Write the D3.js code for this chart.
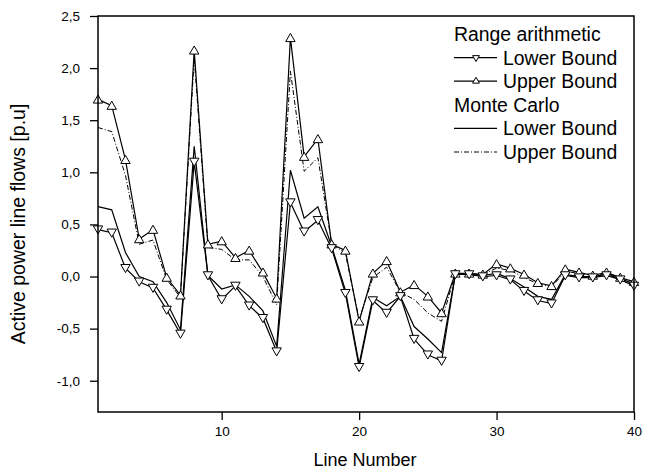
<!DOCTYPE html>
<html>
<head>
<meta charset="utf-8">
<script src="https://cdn.jsdelivr.net/npm/d3@7"></script>
<style>
  body { margin: 0; background: #fff; }
  svg { font-family: "Liberation Sans", Arial, sans-serif; }
</style>
</head>
<body>
<svg id="chart" width="656" height="476"></svg>
<script>
// Line flows, values
const lineNumbers = d3.range(1, 41);
const raLower = [0.45, 0.42, 0.08, -0.05, -0.11, -0.32, -0.55, 1.10, 0.01, -0.22,
  -0.09, -0.28, -0.40, -0.72, 0.71, 0.43, 0.54, 0.27, -0.16, -0.87,
  -0.23, -0.35, -0.19, -0.60, -0.75, -0.81, 0.02, 0.02, 0.00, 0.01,
  -0.03, -0.14, -0.23, -0.26, 0.01, -0.01, -0.01, 0.01, -0.03, -0.09];
const raUpper = [1.70, 1.64, 1.12, 0.36, 0.45, -0.01, -0.18, 2.17, 0.31, 0.34,
  0.18, 0.25, 0.04, -0.21, 2.29, 1.15, 1.32, 0.31, 0.25, -0.43,
  0.03, 0.15, -0.15, -0.08, -0.19, -0.35, 0.03, 0.03, 0.02, 0.12,
  0.08, 0.02, -0.06, -0.09, 0.07, 0.04, 0.01, 0.04, -0.01, -0.05];
const mcLower = [0.67, 0.64, 0.23, 0.00, -0.05, -0.25, -0.51, 1.25, 0.01, -0.12,
  -0.08, -0.19, -0.33, -0.67, 1.02, 0.56, 0.67, 0.29, -0.13, -0.84,
  -0.20, -0.28, -0.19, -0.48, -0.60, -0.73, 0.02, 0.02, 0.01, 0.03,
  -0.02, -0.10, -0.19, -0.22, 0.02, 0.00, 0.00, 0.02, -0.02, -0.07];
const mcUpper = [1.43, 1.39, 0.97, 0.31, 0.35, -0.03, -0.20, 2.10, 0.28, 0.26,
  0.16, 0.16, 0.00, -0.27, 1.97, 1.01, 1.14, 0.32, 0.22, -0.41,
  -0.01, 0.09, -0.15, -0.22, -0.35, -0.43, 0.03, 0.02, 0.02, 0.08,
  0.06, -0.01, -0.07, -0.10, 0.05, 0.03, 0.01, 0.03, -0.01, -0.05];
const xTicks = [10, 20, 30, 40];
const yTicks = [-1.0, -0.5, 0.0, 0.5, 1.0, 1.5, 2.0, 2.5];

const svg = d3.select("#chart");
const mLeft = 98, mRight = 634, mTop = 16, mBottom = 412;
const x = d3.scaleLinear().domain([1, 40]).range([mLeft, mRight]);
const y = d3.scaleLinear().domain([-1.3, 2.5]).range([mBottom, mTop]);
const fmt = d3.formatLocale({decimal: ",", thousands: ".", grouping: [3], currency: ["", ""], minus: "-"}).format(".1f");

const line = d3.line().x((d, i) => x(lineNumbers[i])).y(d => y(d));
const triUp = d3.symbol().type(d3.symbolTriangle).size(38);

// axes
const gx = svg.append("g").attr("transform", `translate(0,${mBottom})`)
  .call(d3.axisBottom(x).tickValues(xTicks).tickSize(8).tickPadding(6).tickFormat(d3.format("d")));
const gy = svg.append("g").attr("transform", `translate(${mLeft},0)`)
  .call(d3.axisLeft(y).tickValues(yTicks).tickSize(8).tickPadding(10).tickFormat(fmt));
[gx, gy].forEach(g => {
  g.select(".domain").remove();
  g.selectAll("line").attr("stroke", "#000").attr("stroke-width", 1.3);
  g.selectAll("text").attr("font-size", 13.5).attr("fill", "#000");
  g.attr("font-family", null);
});

// series lines
const plot = svg.append("g");
plot.append("path").attr("d", line(mcUpper)).attr("fill", "none").attr("stroke", "#000")
  .attr("stroke-width", 1).attr("stroke-dasharray", "5,2,1,2");
plot.append("path").attr("d", line(mcLower)).attr("fill", "none").attr("stroke", "#000").attr("stroke-width", 1.2);
plot.append("path").attr("d", line(raUpper)).attr("fill", "none").attr("stroke", "#000").attr("stroke-width", 1.2);
plot.append("path").attr("d", line(raLower)).attr("fill", "none").attr("stroke", "#000").attr("stroke-width", 1.2);

// markers
plot.selectAll(".up").data(raUpper).enter().append("path").attr("class", "up")
  .attr("d", triUp).attr("transform", (d, i) => `translate(${x(lineNumbers[i])},${y(d) + 1})`)
  .attr("fill", "#fff").attr("stroke", "#000").attr("stroke-width", 1);
plot.selectAll(".down").data(raLower).enter().append("path").attr("class", "down")
  .attr("d", triUp).attr("transform", (d, i) => `translate(${x(lineNumbers[i])},${y(d) - 1}) rotate(180)`)
  .attr("fill", "#fff").attr("stroke", "#000").attr("stroke-width", 1);

// frame
svg.append("rect").attr("x", mLeft).attr("y", mTop).attr("width", mRight - mLeft).attr("height", mBottom - mTop)
  .attr("fill", "none").attr("stroke", "#000").attr("stroke-width", 1.5);

// axis titles
svg.append("text").attr("x", (mLeft + mRight) / 2 - 1).attr("y", 466).attr("text-anchor", "middle")
  .attr("font-size", 18).text("Line Number");
svg.append("text").attr("transform", `translate(25,${(mTop + mBottom) / 2 + 10}) rotate(-90)`)
  .attr("text-anchor", "middle").attr("font-size", 19.5).text("Active power line flows [p.u]");

// legend
const legend = svg.append("g").attr("font-size", 19.4);
const lgX = 454, lgRow = 23.6, lgY = 34;
const legendRows = [
  {label: "Range arithmetic", header: true},
  {label: "Lower Bound", marker: "down"},
  {label: "Upper Bound", marker: "up"},
  {label: "Monte Carlo", header: true},
  {label: "Lower Bound"},
  {label: "Upper Bound", dash: "5,2,1,2"}
];
legendRows.forEach((r, i) => {
  const cy = lgY + i * lgRow;
  if (r.header) {
    legend.append("text").attr("x", lgX).attr("y", cy + 7).text(r.label);
    return;
  }
  legend.append("line").attr("x1", lgX).attr("x2", lgX + 43).attr("y1", cy).attr("y2", cy)
    .attr("stroke", "#000").attr("stroke-width", r.dash ? 1 : 1.2).attr("stroke-dasharray", r.dash || null);
  if (r.marker) {
    legend.append("path").attr("d", d3.symbol().type(d3.symbolTriangle).size(20))
      .attr("transform", `translate(${lgX + 22},${cy}) rotate(${r.marker === "down" ? 180 : 0})`)
      .attr("fill", "#fff").attr("stroke", "#000").attr("stroke-width", 1);
  }
  legend.append("text").attr("x", lgX + 49).attr("y", cy + 7).text(r.label);
});
</script>
</body>
</html>
